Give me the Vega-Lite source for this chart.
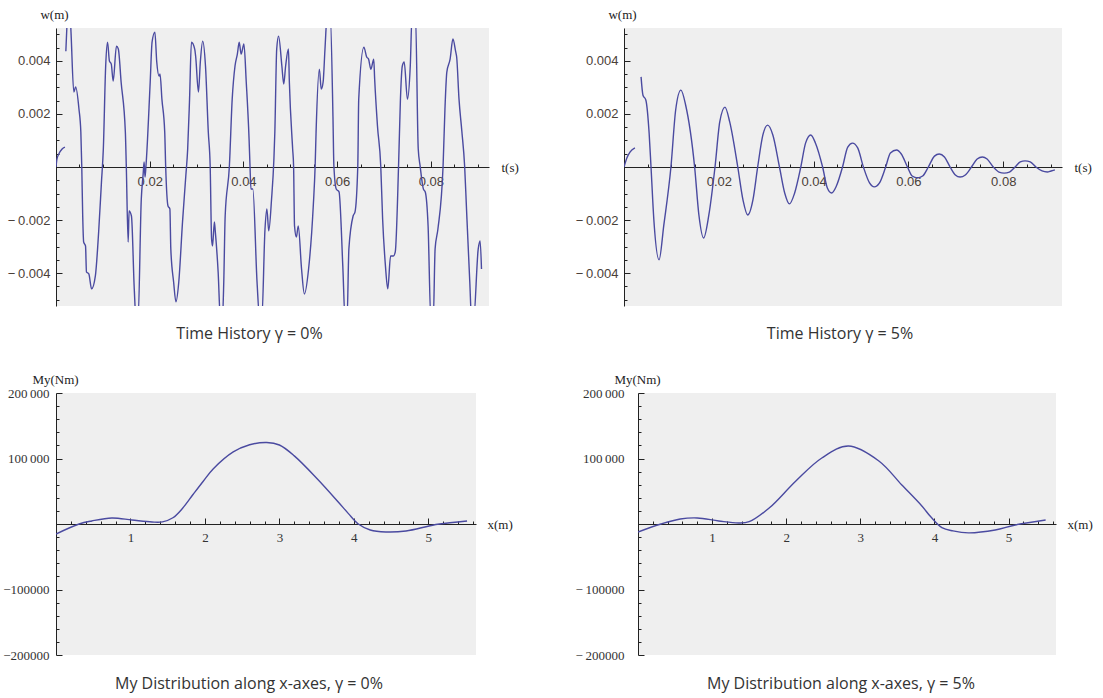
{
  "$schema": "https://vega.github.io/schema/vega-lite/v6.json",
  "background": "white",
  "padding": {"left": 2, "top": 8, "right": 0, "bottom": 5},
  "config": {
    "view": {"fill": "#efefef", "stroke": null},
    "axis": {"grid": false, "domainColor": "#222", "tickColor": "#222", "domainWidth": 1, "tickWidth": 1, "labelOverlap": false, "labelFlush": false, "titleFont": "Liberation Serif", "titleFontSize": 13, "titleFontWeight": "normal", "titleColor": "#222", "titlePadding": 0},
    "title": {"font": "Open Sans", "fontSize": 16, "fontWeight": "normal", "color": "#333"}
  },
  "datasets": {
    "tl": [
      {"t": 0, "w": 0, "seg": 0}, {"t": 0.0002, "w": 0.0003, "seg": 0}, {"t": 0.0006, "w": 0.00049, "seg": 0}, {"t": 0.0013, "w": 0.00068, "seg": 0}, {"t": 0.0019, "w": 0.00075, "seg": 0},
      {"t": 0.0021, "w": 0.00437, "seg": 1}, {"t": 0.0023, "w": 0.0052, "seg": 1}, {"t": 0.0025, "w": 0.0058, "seg": 1}, {"t": 0.003, "w": 0.0058, "seg": 1}, {"t": 0.0032, "w": 0.0051, "seg": 1},
      {"t": 0.0038, "w": 0.00283, "seg": 1}, {"t": 0.0042, "w": 0.00302, "seg": 1}, {"t": 0.0049, "w": 0.00219, "seg": 1}, {"t": 0.0053, "w": 0.00132, "seg": 1}, {"t": 0.0055, "w": 0, "seg": 1},
      {"t": 0.0057, "w": -0.00185, "seg": 1}, {"t": 0.0059, "w": -0.00283, "seg": 1}, {"t": 0.0063, "w": -0.00298, "seg": 1}, {"t": 0.0065, "w": -0.00396, "seg": 1}, {"t": 0.007, "w": -0.00403, "seg": 1},
      {"t": 0.0076, "w": -0.0046, "seg": 1}, {"t": 0.0084, "w": -0.00411, "seg": 1}, {"t": 0.0091, "w": -0.00245, "seg": 1}, {"t": 0.0097, "w": -0.00057, "seg": 1}, {"t": 0.0101, "w": 0.00068, "seg": 1},
      {"t": 0.0106, "w": 0.00381, "seg": 1}, {"t": 0.011, "w": 0.00471, "seg": 1}, {"t": 0.0114, "w": 0.004, "seg": 1}, {"t": 0.0118, "w": 0.00388, "seg": 1}, {"t": 0.0122, "w": 0.00324, "seg": 1},
      {"t": 0.0129, "w": 0.00456, "seg": 1}, {"t": 0.0133, "w": 0.00445, "seg": 1}, {"t": 0.0139, "w": 0.0032, "seg": 1}, {"t": 0.0148, "w": 0.00132, "seg": 1}, {"t": 0.015, "w": 0.00004, "seg": 1},
      {"t": 0.0154, "w": -0.00283, "seg": 1}, {"t": 0.0156, "w": -0.00166, "seg": 1}, {"t": 0.0161, "w": -0.00185, "seg": 1}, {"t": 0.0167, "w": -0.0046, "seg": 1}, {"t": 0.0171, "w": -0.0058, "seg": 1},
      {"t": 0.0175, "w": -0.0058, "seg": 1}, {"t": 0.0182, "w": -0.00121, "seg": 1}, {"t": 0.0186, "w": -0.00026, "seg": 1}, {"t": 0.0188, "w": 0.00019, "seg": 1}, {"t": 0.019, "w": -0.00038, "seg": 1},
      {"t": 0.0192, "w": 0.00004, "seg": 1}, {"t": 0.0201, "w": 0.0032, "seg": 1}, {"t": 0.0205, "w": 0.00471, "seg": 1}, {"t": 0.0211, "w": 0.00509, "seg": 1}, {"t": 0.0215, "w": 0.00396, "seg": 1},
      {"t": 0.022, "w": 0.00343, "seg": 1}, {"t": 0.0222, "w": 0.00351, "seg": 1}, {"t": 0.0226, "w": 0.00256, "seg": 1}, {"t": 0.0232, "w": 0.00132, "seg": 1}, {"t": 0.0234, "w": 0.00004, "seg": 1},
      {"t": 0.0239, "w": -0.00147, "seg": 1}, {"t": 0.0243, "w": -0.00158, "seg": 1}, {"t": 0.0245, "w": -0.00309, "seg": 1}, {"t": 0.0251, "w": -0.00434, "seg": 1}, {"t": 0.0256, "w": -0.00509, "seg": 1},
      {"t": 0.0262, "w": -0.00434, "seg": 1}, {"t": 0.027, "w": -0.00207, "seg": 1}, {"t": 0.0277, "w": -0.00034, "seg": 1}, {"t": 0.0281, "w": 0.00068, "seg": 1}, {"t": 0.0285, "w": 0.00256, "seg": 1},
      {"t": 0.0289, "w": 0.00471, "seg": 1}, {"t": 0.0296, "w": 0.00445, "seg": 1}, {"t": 0.0298, "w": 0.00418, "seg": 1}, {"t": 0.0304, "w": 0.00283, "seg": 1}, {"t": 0.0308, "w": 0.00396, "seg": 1},
      {"t": 0.0313, "w": 0.00475, "seg": 1}, {"t": 0.0319, "w": 0.00381, "seg": 1}, {"t": 0.0325, "w": 0.00132, "seg": 1}, {"t": 0.0329, "w": 0.00004, "seg": 1}, {"t": 0.0332, "w": -0.00271, "seg": 1},
      {"t": 0.0334, "w": -0.00298, "seg": 1}, {"t": 0.0338, "w": -0.00207, "seg": 1}, {"t": 0.034, "w": -0.00245, "seg": 1}, {"t": 0.0346, "w": -0.00396, "seg": 1}, {"t": 0.0351, "w": -0.0058, "seg": 1},
      {"t": 0.0355, "w": -0.0058, "seg": 1}, {"t": 0.0358, "w": -0.00434, "seg": 1}, {"t": 0.0361, "w": -0.00185, "seg": 1}, {"t": 0.037, "w": 0.00004, "seg": 1}, {"t": 0.0376, "w": 0.00256, "seg": 1},
      {"t": 0.0382, "w": 0.00381, "seg": 1}, {"t": 0.0387, "w": 0.00426, "seg": 1}, {"t": 0.0391, "w": 0.00471, "seg": 1}, {"t": 0.0395, "w": 0.00426, "seg": 1}, {"t": 0.0401, "w": 0.00464, "seg": 1},
      {"t": 0.0406, "w": 0.0032, "seg": 1}, {"t": 0.0412, "w": 0.00106, "seg": 1}, {"t": 0.0414, "w": 0.00004, "seg": 1}, {"t": 0.0416, "w": -0.00083, "seg": 1}, {"t": 0.042, "w": -0.00083, "seg": 1},
      {"t": 0.0429, "w": -0.00434, "seg": 1}, {"t": 0.0435, "w": -0.0058, "seg": 1}, {"t": 0.0439, "w": -0.0058, "seg": 1}, {"t": 0.0446, "w": -0.00234, "seg": 1}, {"t": 0.045, "w": -0.00158, "seg": 1},
      {"t": 0.0454, "w": -0.00241, "seg": 1}, {"t": 0.046, "w": -0.00121, "seg": 1}, {"t": 0.0465, "w": 0.0003, "seg": 1}, {"t": 0.0467, "w": 0.00132, "seg": 1}, {"t": 0.0471, "w": 0.00445, "seg": 1},
      {"t": 0.0475, "w": 0.00494, "seg": 1}, {"t": 0.0482, "w": 0.00381, "seg": 1}, {"t": 0.0486, "w": 0.00313, "seg": 1}, {"t": 0.049, "w": 0.00381, "seg": 1}, {"t": 0.0496, "w": 0.00445, "seg": 1},
      {"t": 0.0498, "w": 0.0032, "seg": 1}, {"t": 0.0505, "w": 0.00068, "seg": 1}, {"t": 0.0507, "w": 0.00004, "seg": 1}, {"t": 0.0509, "w": -0.00222, "seg": 1}, {"t": 0.0513, "w": -0.00264, "seg": 1},
      {"t": 0.0517, "w": -0.00222, "seg": 1}, {"t": 0.0524, "w": -0.00385, "seg": 1}, {"t": 0.053, "w": -0.00479, "seg": 1}, {"t": 0.0539, "w": -0.00385, "seg": 1}, {"t": 0.0549, "w": -0.00147, "seg": 1},
      {"t": 0.0553, "w": 0.00004, "seg": 1}, {"t": 0.0555, "w": 0.00132, "seg": 1}, {"t": 0.0562, "w": 0.00369, "seg": 1}, {"t": 0.0566, "w": 0.00294, "seg": 1}, {"t": 0.057, "w": 0.0032, "seg": 1},
      {"t": 0.0574, "w": 0.00445, "seg": 1}, {"t": 0.0579, "w": 0.0058, "seg": 1}, {"t": 0.0585, "w": 0.0058, "seg": 1}, {"t": 0.0591, "w": 0.00192, "seg": 1}, {"t": 0.0593, "w": 0.00004, "seg": 1},
      {"t": 0.0598, "w": -0.00083, "seg": 1}, {"t": 0.0604, "w": -0.00094, "seg": 1}, {"t": 0.0612, "w": -0.00373, "seg": 1}, {"t": 0.0617, "w": -0.0058, "seg": 1}, {"t": 0.0621, "w": -0.0058, "seg": 1},
      {"t": 0.0625, "w": -0.00309, "seg": 1}, {"t": 0.0634, "w": -0.00185, "seg": 1}, {"t": 0.0638, "w": -0.0017, "seg": 1}, {"t": 0.0644, "w": 0.00004, "seg": 1}, {"t": 0.0646, "w": 0.00256, "seg": 1},
      {"t": 0.0657, "w": 0.00452, "seg": 1}, {"t": 0.0663, "w": 0.00415, "seg": 1}, {"t": 0.0667, "w": 0.00407, "seg": 1}, {"t": 0.0672, "w": 0.00369, "seg": 1}, {"t": 0.0678, "w": 0.00407, "seg": 1},
      {"t": 0.068, "w": 0.00332, "seg": 1}, {"t": 0.0686, "w": 0.00155, "seg": 1}, {"t": 0.0693, "w": 0.00004, "seg": 1}, {"t": 0.0697, "w": -0.00196, "seg": 1}, {"t": 0.0703, "w": -0.00373, "seg": 1},
      {"t": 0.0708, "w": -0.0046, "seg": 1}, {"t": 0.0714, "w": -0.00336, "seg": 1}, {"t": 0.072, "w": -0.00336, "seg": 1}, {"t": 0.0724, "w": -0.0032, "seg": 1}, {"t": 0.0731, "w": 0.00004, "seg": 1},
      {"t": 0.0735, "w": 0.00256, "seg": 1}, {"t": 0.0739, "w": 0.00381, "seg": 1}, {"t": 0.0743, "w": 0.00396, "seg": 1}, {"t": 0.075, "w": 0.00256, "seg": 1}, {"t": 0.0756, "w": 0.00381, "seg": 1},
      {"t": 0.076, "w": 0.0058, "seg": 1}, {"t": 0.0767, "w": 0.0058, "seg": 1}, {"t": 0.0773, "w": 0.00068, "seg": 1}, {"t": 0.0777, "w": 0.00004, "seg": 1}, {"t": 0.0784, "w": -0.00083, "seg": 1},
      {"t": 0.0788, "w": -0.00094, "seg": 1}, {"t": 0.0794, "w": -0.00222, "seg": 1}, {"t": 0.08, "w": -0.0058, "seg": 1}, {"t": 0.0805, "w": -0.0058, "seg": 1}, {"t": 0.0809, "w": -0.00309, "seg": 1},
      {"t": 0.0815, "w": -0.00234, "seg": 1}, {"t": 0.0826, "w": 0.00004, "seg": 1}, {"t": 0.083, "w": 0.00219, "seg": 1}, {"t": 0.0834, "w": 0.00358, "seg": 1}, {"t": 0.0841, "w": 0.00407, "seg": 1},
      {"t": 0.0847, "w": 0.00483, "seg": 1}, {"t": 0.0853, "w": 0.00434, "seg": 1}, {"t": 0.0855, "w": 0.00415, "seg": 1}, {"t": 0.086, "w": 0.00256, "seg": 1}, {"t": 0.0866, "w": 0.00136, "seg": 1},
      {"t": 0.0872, "w": 0.00004, "seg": 1}, {"t": 0.0876, "w": -0.00158, "seg": 1}, {"t": 0.0883, "w": -0.00434, "seg": 1}, {"t": 0.0887, "w": -0.0058, "seg": 1}, {"t": 0.0891, "w": -0.0058, "seg": 1},
      {"t": 0.0901, "w": -0.00309, "seg": 1}, {"t": 0.0905, "w": -0.00279, "seg": 1}, {"t": 0.0908, "w": -0.00385, "seg": 1}
    ],
    "tr": [
      {"t": 0, "w": 0, "seg": 0}, {"t": 0.0006, "w": 0.00034, "seg": 0}, {"t": 0.0013, "w": 0.00057, "seg": 0}, {"t": 0.0023, "w": 0.00072, "seg": 0},
      {"t": 0.0036, "w": 0.0034, "seg": 1}, {"t": 0.004, "w": 0.00271, "seg": 1}, {"t": 0.0046, "w": 0.00253, "seg": 1}, {"t": 0.0053, "w": 0.00128, "seg": 1}, {"t": 0.0057, "w": 0, "seg": 1},
      {"t": 0.0063, "w": -0.002, "seg": 1}, {"t": 0.0074, "w": -0.0035, "seg": 1}, {"t": 0.0084, "w": -0.00219, "seg": 1}, {"t": 0.0099, "w": 0, "seg": 1}, {"t": 0.0109, "w": 0.00215, "seg": 1},
      {"t": 0.012, "w": 0.0029, "seg": 1}, {"t": 0.013, "w": 0.00234, "seg": 1}, {"t": 0.0149, "w": 0, "seg": 1}, {"t": 0.0158, "w": -0.00181, "seg": 1}, {"t": 0.0168, "w": -0.00268, "seg": 1},
      {"t": 0.0179, "w": -0.00181, "seg": 1}, {"t": 0.0192, "w": 0, "seg": 1}, {"t": 0.0202, "w": 0.0017, "seg": 1}, {"t": 0.0213, "w": 0.00226, "seg": 1}, {"t": 0.0223, "w": 0.0017, "seg": 1},
      {"t": 0.024, "w": 0, "seg": 1}, {"t": 0.0251, "w": -0.00124, "seg": 1}, {"t": 0.0261, "w": -0.00181, "seg": 1}, {"t": 0.0272, "w": -0.00124, "seg": 1}, {"t": 0.0282, "w": 0, "seg": 1},
      {"t": 0.0293, "w": 0.00121, "seg": 1}, {"t": 0.0303, "w": 0.00158, "seg": 1}, {"t": 0.0314, "w": 0.00121, "seg": 1}, {"t": 0.0328, "w": 0, "seg": 1}, {"t": 0.0339, "w": -0.00098, "seg": 1},
      {"t": 0.0349, "w": -0.00139, "seg": 1}, {"t": 0.036, "w": -0.00098, "seg": 1}, {"t": 0.0373, "w": 0, "seg": 1}, {"t": 0.0383, "w": 0.0009, "seg": 1}, {"t": 0.0394, "w": 0.00121, "seg": 1},
      {"t": 0.0404, "w": 0.0009, "seg": 1}, {"t": 0.0419, "w": 0, "seg": 1}, {"t": 0.0429, "w": -0.00079, "seg": 1}, {"t": 0.0438, "w": -0.00098, "seg": 1}, {"t": 0.0448, "w": -0.00072, "seg": 1},
      {"t": 0.0461, "w": 0, "seg": 1}, {"t": 0.0472, "w": 0.00075, "seg": 1}, {"t": 0.0482, "w": 0.0009, "seg": 1}, {"t": 0.0493, "w": 0.00072, "seg": 1}, {"t": 0.0505, "w": 0, "seg": 1},
      {"t": 0.0518, "w": -0.0006, "seg": 1}, {"t": 0.0528, "w": -0.00075, "seg": 1}, {"t": 0.0539, "w": -0.0006, "seg": 1}, {"t": 0.0552, "w": 0, "seg": 1}, {"t": 0.0562, "w": 0.00053, "seg": 1},
      {"t": 0.0575, "w": 0.00064, "seg": 1}, {"t": 0.0585, "w": 0.00049, "seg": 1}, {"t": 0.0598, "w": 0, "seg": 1}, {"t": 0.0608, "w": -0.00034, "seg": 1}, {"t": 0.0619, "w": -0.00041, "seg": 1},
      {"t": 0.063, "w": -0.00034, "seg": 1}, {"t": 0.0642, "w": 0, "seg": 1}, {"t": 0.0655, "w": 0.00041, "seg": 1}, {"t": 0.0665, "w": 0.00049, "seg": 1}, {"t": 0.0676, "w": 0.00038, "seg": 1},
      {"t": 0.0688, "w": 0, "seg": 1}, {"t": 0.0699, "w": -0.0003, "seg": 1}, {"t": 0.0709, "w": -0.00038, "seg": 1}, {"t": 0.072, "w": -0.0003, "seg": 1}, {"t": 0.0733, "w": 0, "seg": 1},
      {"t": 0.0745, "w": 0.0003, "seg": 1}, {"t": 0.0756, "w": 0.00038, "seg": 1}, {"t": 0.0766, "w": 0.0003, "seg": 1}, {"t": 0.0779, "w": 0, "seg": 1}, {"t": 0.0791, "w": -0.00019, "seg": 1},
      {"t": 0.0802, "w": -0.00023, "seg": 1}, {"t": 0.0813, "w": -0.00019, "seg": 1}, {"t": 0.0825, "w": 0, "seg": 1}, {"t": 0.0836, "w": 0.00019, "seg": 1}, {"t": 0.0846, "w": 0.00023, "seg": 1},
      {"t": 0.0857, "w": 0.00019, "seg": 1}, {"t": 0.0869, "w": 0, "seg": 1}, {"t": 0.0882, "w": -0.00015, "seg": 1}, {"t": 0.0893, "w": -0.00019, "seg": 1}, {"t": 0.0901, "w": -0.00015, "seg": 1},
      {"t": 0.0909, "w": -0.00011, "seg": 1}
    ],
    "bl": [
      {"x": 0, "m": -15300}, {"x": 0.31, "m": 0}, {"x": 0.48, "m": 4600}, {"x": 0.75, "m": 9200}, {"x": 1.02, "m": 6100},
      {"x": 1.29, "m": 3100}, {"x": 1.43, "m": 3300}, {"x": 1.57, "m": 9500}, {"x": 1.7, "m": 24000}, {"x": 1.84, "m": 45000},
      {"x": 1.98, "m": 65700}, {"x": 2.11, "m": 84000}, {"x": 2.38, "m": 110000}, {"x": 2.6, "m": 121000}, {"x": 2.83, "m": 124500},
      {"x": 3.0, "m": 120600}, {"x": 3.2, "m": 104000}, {"x": 3.51, "m": 68700}, {"x": 3.79, "m": 33600}, {"x": 3.93, "m": 15500},
      {"x": 4.06, "m": 0}, {"x": 4.22, "m": -9200}, {"x": 4.43, "m": -12200}, {"x": 4.7, "m": -10700}, {"x": 5.01, "m": -3000},
      {"x": 5.15, "m": 0}, {"x": 5.52, "m": 4600}
    ],
    "br": [
      {"x": 0, "m": -12200}, {"x": 0.31, "m": 0}, {"x": 0.57, "m": 7600}, {"x": 0.8, "m": 9200}, {"x": 1.09, "m": 4600},
      {"x": 1.36, "m": 1500}, {"x": 1.5, "m": 3500}, {"x": 1.77, "m": 24400}, {"x": 2.13, "m": 65700}, {"x": 2.48, "m": 100800},
      {"x": 2.84, "m": 119000}, {"x": 3.25, "m": 96200}, {"x": 3.56, "m": 59500}, {"x": 3.83, "m": 27500}, {"x": 3.95, "m": 11000},
      {"x": 4.1, "m": -5500}, {"x": 4.25, "m": -10500}, {"x": 4.46, "m": -13500}, {"x": 4.82, "m": -9200}, {"x": 5.09, "m": -1500},
      {"x": 5.5, "m": 6100}
    ]
  },
  "columns": 2,
  "align": "none",
  "spacing": {"row": 31, "column": 56},
  "concat": [
    {
      "width": 433, "height": 278,
      "data": {"name": "tl"},
      "title": {"text": "Time History γ = 0%", "orient": "bottom", "offset": 19, "dx": -23},
      "mark": {"type": "line", "clip": true, "color": "#4a4aa0", "strokeWidth": 1.4, "interpolate": "monotone"},
      "encoding": {
        "detail": {"field": "seg"},
        "x": {"field": "t", "type": "quantitative", "scale": {"domain": [0, 0.0924], "nice": false, "zero": false},
          "axis": {"orient": "bottom", "offset": -139,
            "values": [0.005, 0.01, 0.015, 0.02, 0.025, 0.03, 0.035, 0.04, 0.045, 0.05, 0.055, 0.06, 0.065, 0.07, 0.075, 0.08, 0.085, 0.09],
            "labelExpr": "indexof([0.02, 0.04, 0.06, 0.08], datum.value) >= 0 ? format(datum.value, '.2f') : ''",
            "tickSize": {"condition": {"test": "indexof([0.02, 0.04, 0.06, 0.08], datum.value) >= 0", "value": -6}, "value": -3},
            "labelPadding": 14, "labelBaseline": "top", "labelFont": "Liberation Sans", "labelFontSize": 13, "labelColor": "#4a4038",
            "title": "t(s)", "titleX": 445, "titleY": 0, "titleAlign": "left", "titleBaseline": "middle", "titleAngle": 0}},
        "y": {"field": "w", "type": "quantitative", "scale": {"domain": [-0.005245, 0.005245], "nice": false, "zero": false},
          "axis": {"orient": "left",
            "values": [-0.005, -0.0045, -0.004, -0.0035, -0.003, -0.0025, -0.002, -0.0015, -0.001, -0.0005, 0.0005, 0.001, 0.0015, 0.002, 0.0025, 0.003, 0.0035, 0.004, 0.0045, 0.005],
            "labelExpr": "datum.value == 0.004 ? '0.004' : datum.value == 0.002 ? '0.002' : datum.value == -0.002 ? '−\u20090.002' : datum.value == -0.004 ? '−\u20090.004' : ''",
            "tickSize": {"condition": {"test": "indexof([-0.004, -0.002, 0.002, 0.004], datum.value) >= 0", "value": -6}, "value": -3},
            "labelPadding": 12, "labelFont": "Liberation Sans", "labelFontSize": 13, "labelColor": "#4a4038",
            "title": "w(m)", "titleX": -2, "titleY": -14, "titleAlign": "center", "titleBaseline": "middle", "titleAngle": 0}}
      }
    },
    {
      "width": 438, "height": 278,
      "data": {"name": "tr"},
      "title": {"text": "Time History γ = 5%", "orient": "bottom", "offset": 19, "dx": -3},
      "mark": {"type": "line", "clip": true, "color": "#4a4aa0", "strokeWidth": 1.4, "interpolate": "monotone"},
      "encoding": {
        "detail": {"field": "seg"},
        "x": {"field": "t", "type": "quantitative", "scale": {"domain": [0, 0.0924], "nice": false, "zero": false},
          "axis": {"orient": "bottom", "offset": -139,
            "values": [0.005, 0.01, 0.015, 0.02, 0.025, 0.03, 0.035, 0.04, 0.045, 0.05, 0.055, 0.06, 0.065, 0.07, 0.075, 0.08, 0.085, 0.09],
            "labelExpr": "indexof([0.02, 0.04, 0.06, 0.08], datum.value) >= 0 ? format(datum.value, '.2f') : ''",
            "tickSize": {"condition": {"test": "indexof([0.02, 0.04, 0.06, 0.08], datum.value) >= 0", "value": -6}, "value": -3},
            "labelPadding": 14, "labelBaseline": "top", "labelFont": "Liberation Sans", "labelFontSize": 13, "labelColor": "#4a4038",
            "title": "t(s)", "titleX": 450, "titleY": 0, "titleAlign": "left", "titleBaseline": "middle", "titleAngle": 0}},
        "y": {"field": "w", "type": "quantitative", "scale": {"domain": [-0.005245, 0.005245], "nice": false, "zero": false},
          "axis": {"orient": "left",
            "values": [-0.005, -0.0045, -0.004, -0.0035, -0.003, -0.0025, -0.002, -0.0015, -0.001, -0.0005, 0.0005, 0.001, 0.0015, 0.002, 0.0025, 0.003, 0.0035, 0.004, 0.0045, 0.005],
            "labelExpr": "datum.value == 0.004 ? '0.004' : datum.value == 0.002 ? '0.002' : datum.value == -0.002 ? '−\u20090.002' : datum.value == -0.004 ? '−\u20090.004' : ''",
            "tickSize": {"condition": {"test": "indexof([-0.004, -0.002, 0.002, 0.004], datum.value) >= 0", "value": -6}, "value": -3},
            "labelPadding": 12, "labelFont": "Liberation Sans", "labelFontSize": 13, "labelColor": "#4a4038",
            "title": "w(m)", "titleX": -2, "titleY": -14, "titleAlign": "center", "titleBaseline": "middle", "titleAngle": 0}}
      }
    },
    {
      "width": 420, "height": 262,
      "data": {"name": "bl"},
      "title": {"text": "My Distribution along x-axes, γ = 0%", "orient": "bottom", "offset": 14, "dx": -17},
      "mark": {"type": "line", "clip": true, "color": "#4a4aa0", "strokeWidth": 1.4, "interpolate": "catmull-rom"},
      "encoding": {
        "x": {"field": "x", "type": "quantitative", "scale": {"domain": [0, 5.64], "nice": false, "zero": false},
          "axis": {"orient": "bottom", "offset": -131,
            "values": [0.2, 0.4, 0.6, 0.8, 1, 1.2, 1.4, 1.6, 1.8, 2, 2.2, 2.4, 2.6, 2.8, 3, 3.2, 3.4, 3.6, 3.8, 4, 4.2, 4.4, 4.6, 4.8, 5, 5.2, 5.4, 5.6],
            "labelExpr": "indexof([1, 2, 3, 4, 5], datum.value) >= 0 ? format(datum.value, 'd') : ''",
            "tickSize": {"condition": {"test": "indexof([1, 2, 3, 4, 5], datum.value) >= 0", "value": -6}, "value": -3},
            "labelPadding": 13, "labelBaseline": "top", "labelFont": "Liberation Serif", "labelFontSize": 13, "labelColor": "#333",
            "title": "x(m)", "titleX": 431, "titleY": 0, "titleAlign": "left", "titleBaseline": "middle", "titleAngle": 0}},
        "y": {"field": "m", "type": "quantitative", "scale": {"domain": [-200000, 200000], "nice": false, "zero": false},
          "axis": {"orient": "left",
            "values": [-200000, -180000, -160000, -140000, -120000, -100000, -80000, -60000, -40000, -20000, 20000, 40000, 60000, 80000, 100000, 120000, 140000, 160000, 180000, 200000],
            "labelExpr": "datum.value == 200000 ? '200\u2009000' : datum.value == 100000 ? '100\u2009000' : datum.value == -100000 ? '−100000' : datum.value == -200000 ? '−200000' : ''",
            "tickSize": {"condition": {"test": "indexof([-200000, -100000, 100000, 200000], datum.value) >= 0", "value": -6}, "value": -3},
            "labelPadding": 13, "labelFont": "Liberation Serif", "labelFontSize": 13, "labelColor": "#333",
            "title": "My(Nm)", "titleX": -1, "titleY": -14, "titleAlign": "center", "titleBaseline": "middle", "titleAngle": 0}}
      }
    },
    {
      "width": 418, "height": 262,
      "data": {"name": "br"},
      "title": {"text": "My Distribution along x-axes, γ = 5%", "orient": "bottom", "offset": 14, "dx": -6},
      "mark": {"type": "line", "clip": true, "color": "#4a4aa0", "strokeWidth": 1.4, "interpolate": "catmull-rom"},
      "encoding": {
        "x": {"field": "x", "type": "quantitative", "scale": {"domain": [0, 5.64], "nice": false, "zero": false},
          "axis": {"orient": "bottom", "offset": -131,
            "values": [0.2, 0.4, 0.6, 0.8, 1, 1.2, 1.4, 1.6, 1.8, 2, 2.2, 2.4, 2.6, 2.8, 3, 3.2, 3.4, 3.6, 3.8, 4, 4.2, 4.4, 4.6, 4.8, 5, 5.2, 5.4, 5.6],
            "labelExpr": "indexof([1, 2, 3, 4, 5], datum.value) >= 0 ? format(datum.value, 'd') : ''",
            "tickSize": {"condition": {"test": "indexof([1, 2, 3, 4, 5], datum.value) >= 0", "value": -6}, "value": -3},
            "labelPadding": 13, "labelBaseline": "top", "labelFont": "Liberation Serif", "labelFontSize": 13, "labelColor": "#333",
            "title": "x(m)", "titleX": 429, "titleY": 0, "titleAlign": "left", "titleBaseline": "middle", "titleAngle": 0}},
        "y": {"field": "m", "type": "quantitative", "scale": {"domain": [-200000, 200000], "nice": false, "zero": false},
          "axis": {"orient": "left",
            "values": [-200000, -180000, -160000, -140000, -120000, -100000, -80000, -60000, -40000, -20000, 20000, 40000, 60000, 80000, 100000, 120000, 140000, 160000, 180000, 200000],
            "labelExpr": "datum.value == 200000 ? '200\u2009000' : datum.value == 100000 ? '100\u2009000' : datum.value == -100000 ? '−\u2009100000' : datum.value == -200000 ? '−\u2009200000' : ''",
            "tickSize": {"condition": {"test": "indexof([-200000, -100000, 100000, 200000], datum.value) >= 0", "value": -6}, "value": -3},
            "labelPadding": 20, "labelFont": "Liberation Serif", "labelFontSize": 13, "labelColor": "#333",
            "title": "My(Nm)", "titleX": -1, "titleY": -14, "titleAlign": "center", "titleBaseline": "middle", "titleAngle": 0}}
      }
    }
  ]
}
